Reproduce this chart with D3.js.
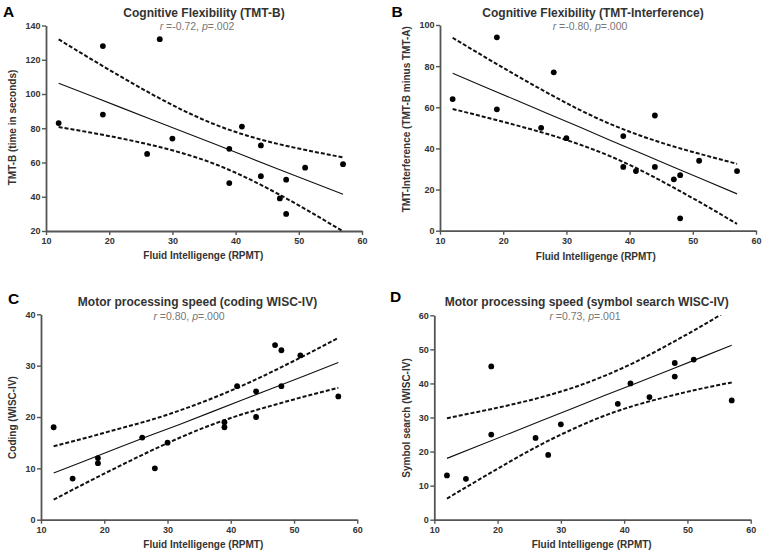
<!DOCTYPE html>
<html><head><meta charset="utf-8">
<script src="https://cdn.jsdelivr.net/npm/d3@7/dist/d3.min.js"></script>
<style>
html,body{margin:0;padding:0;background:#fff;}
svg{display:block;font-family:"Liberation Sans",Arial,sans-serif;}
</style></head>
<body><svg id="chart" width="767" height="556"></svg>
<script>
// ---------- data ----------
const xTicks = [10, 20, 30, 40, 50, 60];
const bandX = [12, 17, 22, 27, 32, 37, 42, 47, 52, 57];

// Panel A – TMT-B
const aX = [12, 19, 19, 26, 28, 30, 39, 39, 41, 44, 44, 47, 48, 48, 51, 57];
const aY = [83, 128, 88, 65, 132, 74, 68, 48, 81, 70, 52, 39, 50, 30, 57, 59];
const aFit = [106.3, 99.1, 91.9, 84.7, 77.5, 70.3, 63.0, 55.8, 48.6, 41.4];
const aUpper = [131.9, 120.7, 109.8, 99.4, 89.9, 81.8, 75.5, 70.6, 66.6, 63.0];
const aLower = [80.7, 77.5, 74.0, 69.9, 65.0, 58.7, 50.6, 41.1, 30.7, 19.8];
const aYTicks = [20, 40, 60, 80, 100, 120, 140];

// Panel B – TMT-Interference
const bX = [12, 19, 19, 26, 28, 30, 39, 39, 41, 44, 44, 47, 48, 48, 51, 57];
const bY = [64, 94, 59, 50, 77, 45, 46, 31, 29, 56, 31, 25, 27, 6, 34, 29];
const bFit = [76.5, 70.0, 63.5, 57.0, 50.5, 43.9, 37.4, 30.9, 24.4, 17.9];
const bUpper = [93.8, 84.6, 75.6, 67.0, 58.9, 51.8, 45.9, 40.9, 36.6, 32.5];
const bLower = [59.2, 55.3, 51.3, 47.0, 42.0, 36.1, 29.0, 20.9, 12.3, 3.3];
const bYTicks = [0, 20, 40, 60, 80, 100];

// Panel C – coding WISC-IV
const cX = [12, 15, 19, 19, 26, 28, 30, 39, 39, 41, 44, 44, 47, 48, 48, 51, 57];
const cY = [18, 8, 12, 11, 16, 10, 15, 19, 18, 26, 25, 20, 34, 33, 26, 32, 24];
const cFit = [9.1, 11.5, 13.9, 16.3, 18.6, 21.0, 23.4, 25.8, 28.2, 30.6];
const cUpper = [14.3, 15.9, 17.6, 19.3, 21.3, 23.6, 26.2, 29.1, 32.2, 35.4];
const cLower = [3.9, 7.1, 10.2, 13.2, 16.0, 18.5, 20.6, 22.4, 24.1, 25.7];
const cYTicks = [0, 10, 20, 30, 40];

// Panel D – symbol search WISC-IV
const dX = [12, 15, 19, 19, 26, 28, 30, 39, 41, 44, 48, 48, 51, 57];
const dY = [13, 12, 45, 25, 24, 19, 28, 34, 40, 36, 46, 42, 47, 35];
const dFit = [18.0, 21.7, 25.4, 29.1, 32.8, 36.5, 40.1, 43.8, 47.5, 51.2];
const dUpper = [29.8, 31.7, 33.7, 36.0, 38.8, 42.3, 46.5, 51.4, 56.6, 62.1];
const dLower = [6.2, 11.7, 17.1, 22.2, 26.7, 30.6, 33.7, 36.2, 38.4, 40.3];
const dYTicks = [0, 10, 20, 30, 40, 50, 60];

const xLabel = "Fluid Intelligenge (RPMT)";

// ---------- panels (data + layout) ----------
const panels = [
  {id:"A", title:"Cognitive Flexibility (TMT-B)", r:"-0.72", p:".002", yLabel:"TMT-B (time in seconds)",
   x:aX, y:aY, fit:aFit, up:aUpper, lo:aLower, yTicks:aYTicks,
   L:{x0:46, x1:362, yt:25.5, yb:231, letterX:3, letterY:17.3, titleX:204, titleY:16.7, subX:197, subY:30,
      yLabX:16, yLabY:127.5, xLabX:203.3, xLabY:259.3}},
  {id:"B", title:"Cognitive Flexibility (TMT-Interference)", r:"-0.80", p:".000", yLabel:"TMT-Interference (TMT-B minus TMT-A)",
   x:bX, y:bY, fit:bFit, up:bUpper, lo:bLower, yTicks:bYTicks,
   L:{x0:440, x1:756, yt:25, yb:230.7, letterX:391.5, letterY:16.9, titleX:593, titleY:16.7, subX:590, subY:30,
      yLabX:410, yLabY:119.2, xLabX:595.8, xLabY:259.5}},
  {id:"C", title:"Motor processing speed (coding WISC-IV)", r:"0.80", p:".000", yLabel:"Coding (WISC-IV)",
   x:cX, y:cY, fit:cFit, up:cUpper, lo:cLower, yTicks:cYTicks,
   L:{x0:41, x1:357.3, yt:314.3, yb:519.7, letterX:8, letterY:303.5, titleX:197.5, titleY:306, subX:189, subY:320.3,
      yLabX:16, yLabY:417.5, xLabX:203.3, xLabY:548}},
  {id:"D", title:"Motor processing speed (symbol search WISC-IV)", r:"0.73", p:".001", yLabel:"Symbol search (WISC-IV)",
   x:dX, y:dY, fit:dFit, up:dUpper, lo:dLower, yTicks:dYTicks,
   L:{x0:434.3, x1:750.7, yt:315.3, yb:519.7, letterX:390, letterY:302, titleX:586.7, titleY:306, subX:585, subY:320,
      yLabX:410, yLabY:418, xLabX:591.7, xLabY:548}}
];

const svg = d3.select("#chart");
const axisColor = "#555";

panels.forEach((P, i) => {
  const L = P.L;
  const xs = d3.scaleLinear().domain([10, 60]).range([L.x0, L.x1]);
  const ys = d3.scaleLinear().domain(d3.extent(P.yTicks)).range([L.yb, L.yt]);
  const g = svg.append("g");

  // clip
  const clipId = "clip" + P.id;
  svg.append("defs").append("clipPath").attr("id", clipId)
    .append("rect").attr("x", L.x0).attr("y", L.yt).attr("width", L.x1 - L.x0).attr("height", L.yb - L.yt);

  // axes
  const xa = g.append("g").attr("transform", `translate(0,${L.yb})`)
    .call(d3.axisBottom(xs).tickValues(xTicks).tickSize(4).tickSizeOuter(0).tickPadding(3));
  const ya = g.append("g").attr("transform", `translate(${L.x0},0)`)
    .call(d3.axisLeft(ys).tickValues(P.yTicks).tickSize(4).tickSizeOuter(0).tickPadding(1.5));
  [xa, ya].forEach(a => {
    a.select(".domain").attr("stroke", axisColor).attr("stroke-width", 1.8);
    a.selectAll(".tick line").attr("stroke", axisColor).attr("stroke-width", 1.4);
    a.selectAll(".tick text").attr("fill", "#333").attr("font-size", 9).attr("font-weight", "bold")
      .attr("font-family", "'Liberation Sans',Arial,sans-serif");
  });

  // lines
  const lineGen = arr => d3.line().x((d, k) => xs(bandX[k])).y(d => ys(d)).curve(d3.curveNatural)(arr);
  const lg = g.append("g").attr("clip-path", `url(#${clipId})`);
  lg.append("path").attr("d", lineGen(P.up)).attr("fill", "none").attr("stroke", "#111")
    .attr("stroke-width", 2).attr("stroke-dasharray", "4,2");
  lg.append("path").attr("d", lineGen(P.lo)).attr("fill", "none").attr("stroke", "#111")
    .attr("stroke-width", 2).attr("stroke-dasharray", "4,2");
  lg.append("path").attr("d", d3.line().x((d, k) => xs(bandX[k])).y(d => ys(d))(P.fit))
    .attr("fill", "none").attr("stroke", "#111").attr("stroke-width", 1.1);

  // points
  g.append("g").selectAll("circle").data(P.x.map((v, k) => [v, P.y[k]])).join("circle")
    .attr("cx", d => xs(d[0])).attr("cy", d => ys(d[1])).attr("r", 2.9).attr("fill", "#000");

  // letter
  g.append("text").attr("x", L.letterX).attr("y", L.letterY).text(P.id)
    .attr("font-size", 15.5).attr("font-weight", "bold").attr("fill", "#000");
  // title
  g.append("text").attr("x", L.titleX).attr("y", L.titleY).attr("text-anchor", "middle").text(P.title)
    .attr("font-size", 12).attr("font-weight", "bold").attr("fill", "#333");
  // subtitle
  const st = g.append("text").attr("x", L.subX).attr("y", L.subY).attr("text-anchor", "middle")
    .attr("font-size", 10.5).attr("fill", "#777");
  st.append("tspan").attr("font-style", "italic").text("r");
  st.append("tspan").text(" =" + P.r + ", ");
  st.append("tspan").attr("font-style", "italic").text("p");
  st.append("tspan").text("=" + P.p);
  // axis titles
  g.append("text").attr("transform", `translate(${L.yLabX},${L.yLabY}) rotate(-90)`).attr("text-anchor", "middle")
    .text(P.yLabel).attr("font-size", 10).attr("font-weight", "bold").attr("fill", "#333");
  g.append("text").attr("x", L.xLabX).attr("y", L.xLabY).attr("text-anchor", "middle")
    .text(xLabel).attr("font-size", 10).attr("font-weight", "bold").attr("fill", "#333");
});
</script>
</body></html>
